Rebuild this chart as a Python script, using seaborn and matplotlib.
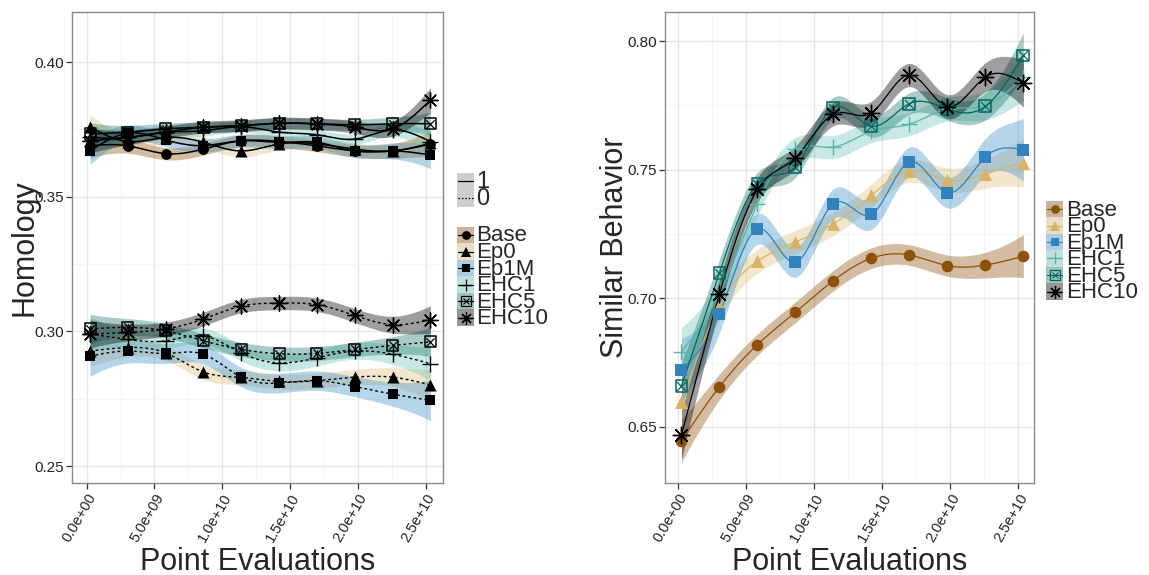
import numpy as np
import pandas as pd
import matplotlib
matplotlib.use("Agg")
import matplotlib.pyplot as plt
from matplotlib.patches import Rectangle
from matplotlib.lines import Line2D
import seaborn as sns

# ---------------- data ----------------
x_evals = [2.5e8, 3.04e9, 5.83e9, 8.62e9, 1.141e10, 1.42e10, 1.699e10, 1.978e10, 2.257e10, 2.536e10]
groups = ["Base", "Ep0", "Ep1M", "EHC1", "EHC5", "EHC10"]

# Homology, condition 1 (solid)
hom1_base = [0.3690, 0.3689, 0.3660, 0.3677, 0.3708, 0.3705, 0.3689, 0.3670, 0.3670, 0.3695]
hom1_ep0 = [0.3758, 0.3705, 0.3720, 0.3702, 0.3670, 0.3696, 0.3696, 0.3677, 0.3670, 0.3699]
hom1_ep1m = [0.3670, 0.3736, 0.3711, 0.3690, 0.3708, 0.3702, 0.3702, 0.3670, 0.3670, 0.3655]
hom1_ehc1 = [0.3720, 0.3720, 0.3740, 0.3745, 0.3760, 0.3740, 0.3730, 0.3714, 0.3748, 0.3705]
hom1_ehc5 = [0.3733, 0.3740, 0.3752, 0.3758, 0.3764, 0.3773, 0.3771, 0.3767, 0.3771, 0.3771]
hom1_ehc10 = [0.3708, 0.3720, 0.3740, 0.3758, 0.3764, 0.3773, 0.3770, 0.3758, 0.3752, 0.3859]

# Homology, condition 0 (dotted)
hom0_ep0 = [0.2927, 0.2940, 0.2920, 0.2849, 0.2829, 0.2814, 0.2817, 0.2830, 0.2830, 0.2801]
hom0_ep1m = [0.2908, 0.2927, 0.2918, 0.2915, 0.2830, 0.2808, 0.2817, 0.2795, 0.2767, 0.2744]
hom0_ehc1 = [0.2990, 0.2970, 0.2965, 0.2983, 0.2920, 0.2883, 0.2902, 0.2927, 0.2915, 0.2880]
hom0_ehc5 = [0.3009, 0.3015, 0.3002, 0.2965, 0.2933, 0.2917, 0.2918, 0.2933, 0.2948, 0.2961]
hom0_ehc10 = [0.2990, 0.2996, 0.3009, 0.3046, 0.3094, 0.3105, 0.3099, 0.3059, 0.3025, 0.3043]

# Similar behavior
sim_base = [0.6446, 0.6656, 0.6820, 0.6946, 0.7069, 0.7156, 0.7168, 0.7127, 0.7129, 0.7164]
sim_ep0 = [0.6597, 0.6972, 0.7144, 0.7219, 0.7290, 0.7400, 0.7495, 0.7460, 0.7484, 0.7527]
sim_ep1m = [0.6722, 0.6939, 0.7270, 0.7140, 0.7368, 0.7326, 0.7530, 0.7411, 0.7549, 0.7577]
sim_ehc1 = [0.6792, 0.7020, 0.7367, 0.7580, 0.7588, 0.7650, 0.7677, 0.7736, 0.7749, 0.7860]
sim_ehc5 = [0.6660, 0.7100, 0.7446, 0.7512, 0.7740, 0.7669, 0.7757, 0.7736, 0.7746, 0.7944]
sim_ehc10 = [0.6469, 0.7017, 0.7423, 0.7547, 0.7716, 0.7721, 0.7868, 0.7745, 0.7860, 0.7837]

xtick_vals = [0.0, 5e9, 1e10, 1.5e10, 2e10, 2.5e10]
xtick_labels = ["0.0e+00", "5.0e+09", "1.0e+10", "1.5e+10", "2.0e+10", "2.5e+10"]

hom1 = dict(zip(groups, [hom1_base, hom1_ep0, hom1_ep1m, hom1_ehc1, hom1_ehc5, hom1_ehc10]))
hom0 = dict(zip(groups[1:], [hom0_ep0, hom0_ep1m, hom0_ehc1, hom0_ehc5, hom0_ehc10]))
sim = dict(zip(groups, [sim_base, sim_ep0, sim_ep1m, sim_ehc1, sim_ehc5, sim_ehc10]))

# ---------------- styles ----------------
line_col = {"Base": "#8c510a", "Ep0": "#d8b365", "Ep1M": "#3182bd",
            "EHC1": "#5ab4ac", "EHC5": "#01665e", "EHC10": "#000000"}
band_col = {"Base": "#8c510a", "Ep0": "#dfc27d", "Ep1M": "#3d92cc",
            "EHC1": "#6cc4b8", "EHC5": "#1f7a70", "EHC10": "#000000"}
marker_of = {"Base": "o", "Ep0": "^", "Ep1M": "s", "EHC1": "+", "EHC5": "boxx", "EHC10": (8, 2, 0)}
sim_hw = {"Base": 0.0040, "Ep0": 0.0045, "Ep1M": 0.0058, "EHC1": 0.0045, "EHC5": 0.0042, "EHC10": 0.0045}
hom_hw1 = {"Base": 0.0022, "Ep0": 0.0022, "Ep1M": 0.0024, "EHC1": 0.0020, "EHC5": 0.0020, "EHC10": 0.0022}
hom_hw0 = {"Ep0": 0.0028, "Ep1M": 0.0036, "EHC1": 0.0030, "EHC5": 0.0026, "EHC10": 0.0025}

FONT = "Liberation Sans"
sns.set_theme(style="whitegrid")
plt.rcParams["font.family"] = [FONT, "DejaVu Sans"]

W, H = 1149, 575
fig = plt.figure(figsize=(W / 100, H / 100), dpi=100)


def fx(px):
    return px / W


def fy(py):
    return 1 - py / H


def nat_spline(x, y, xs):
    x = np.asarray(x, float); y = np.asarray(y, float)
    n = len(x)
    h = np.diff(x)
    A = np.zeros((n, n)); b = np.zeros(n)
    A[0, 0] = 1; A[-1, -1] = 1
    for i in range(1, n - 1):
        A[i, i - 1] = h[i - 1]
        A[i, i] = 2 * (h[i - 1] + h[i])
        A[i, i + 1] = h[i]
        b[i] = 6 * ((y[i + 1] - y[i]) / h[i] - (y[i] - y[i - 1]) / h[i - 1])
    M = np.linalg.solve(A, b)
    idx = np.clip(np.searchsorted(x, xs) - 1, 0, n - 2)
    x0 = x[idx]; x1 = x[idx + 1]; hh = x1 - x0
    t0 = x1 - xs; t1 = xs - x0
    return (M[idx] * t0 ** 3 / (6 * hh) + M[idx + 1] * t1 ** 3 / (6 * hh)
            + (y[idx] / hh - M[idx] * hh / 6) * t0 + (y[idx + 1] / hh - M[idx + 1] * hh / 6) * t1)


def draw_series(ax, g, yv, hw, lcolor, mcolor, ls, lw, ms, band_alpha=0.38):
    xs = np.linspace(x_evals[0], x_evals[-1], 300)
    ys = nat_spline(x_evals, yv, xs)
    t = (xs - (x_evals[0] + x_evals[-1]) / 2) / ((x_evals[-1] - x_evals[0]) / 2)
    w = hw * (1 + 1.1 * t ** 6)
    ax.fill_between(xs, ys - w, ys + w, color=band_col[g], alpha=band_alpha, lw=0, zorder=2)
    curve = pd.DataFrame({"x": xs, "y": ys})
    sns.lineplot(data=curve, x="x", y="y", ax=ax, color=lcolor, lw=lw, linestyle=ls,
                 estimator=None, sort=False, zorder=3)
    pts = pd.DataFrame({"x": x_evals, "y": yv})
    m = marker_of[g]
    if m == "boxx":
        sns.scatterplot(data=pts, x="x", y="y", ax=ax, marker="s", s=ms * 1.05,
                        facecolors="none", edgecolor=mcolor, linewidth=1.1, zorder=4)
        sns.scatterplot(data=pts, x="x", y="y", ax=ax, marker="x", s=ms * 0.6,
                        color=mcolor, linewidth=0.9, zorder=4)
    elif m in ("+", (8, 2, 0)):
        sns.scatterplot(data=pts, x="x", y="y", ax=ax, marker=m, s=ms * 2.0,
                        color=mcolor, linewidth=1.0, zorder=4)
    else:
        s = ms * (1.25 if m == "^" else 1.0)
        sns.scatterplot(data=pts, x="x", y="y", ax=ax, marker=m, s=s,
                        color=mcolor, edgecolor=mcolor, linewidth=0, zorder=4)


def style_axes(ax, yticks, ylab, yminor, xlim, ylim, ylab_x):
    ax.set_facecolor("white")
    for sp in ax.spines.values():
        sp.set_color("#8a8a8a"); sp.set_linewidth(1.0)
    ax.set_xticks(xtick_vals)
    ax.set_xticklabels(xtick_labels, rotation=60, ha="right", va="top",
                       rotation_mode="anchor", fontsize=10.5, color="#222222")
    ax.set_xticks([2.5e9, 7.5e9, 1.25e10, 1.75e10, 2.25e10], minor=True)
    ax.set_yticks(yticks)
    ax.set_yticklabels(["%.2f" % v for v in yticks], fontsize=11, color="#222222")
    ax.set_yticks(yminor, minor=True)
    ax.set_xlim(*xlim)
    ax.set_ylim(*ylim)
    ax.grid(which="major", color="#e6e6e6", lw=1.0)
    ax.grid(which="minor", color="#f5f5f5", lw=0.8)
    ax.set_axisbelow(True)
    ax.tick_params(which="major", length=4, width=0.9, color="#333333", pad=2,
                   bottom=True, left=True)
    ax.tick_params(which="minor", length=0)
    ax.set_xlabel("Point Evaluations", fontsize=22, va="baseline")
    ax.xaxis.set_label_coords(0.5, (483 - 570) / 471.0)
    ax.set_ylabel(ylab, fontsize=22, va="center")
    ax.yaxis.set_label_coords(ylab_x, 0.5)


# ---------------- left panel ----------------
axL = fig.add_axes([fx(72), fy(483), fx(442.5) - fx(72), fy(12) - fy(483)])
for g in groups:
    draw_series(axL, g, hom1[g], hom_hw1[g], "black", "black", "-", 1.1, 60)
for g in groups[1:]:
    draw_series(axL, g, hom0[g], hom_hw0[g], "black", "black", (0, (2, 2)), 1.0, 60)
style_axes(axL, [0.25, 0.30, 0.35, 0.40], "Homology", [0.275, 0.325, 0.375],
           (-1.08e9, 2.625e10), (0.2437, 0.4186), (24 - 72) / 370.5)

# ---------------- right panel ----------------
axR = fig.add_axes([fx(665), fy(483), fx(1034) - fx(665), fy(12) - fy(483)])
for g in groups:
    draw_series(axR, g, sim[g], sim_hw[g], line_col[g], line_col[g], "-", 0.9, 70)
style_axes(axR, [0.65, 0.70, 0.75, 0.80], "Similar Behavior", [0.675, 0.725, 0.775],
           (-0.96e9, 2.614e10), (0.6282, 0.8113), (615 - 665) / 369.0)


# ---------------- legends ----------------
def key_box(px, pcy, color, alpha):
    x0 = px
    y1 = pcy + 8.5
    fig.add_artist(Rectangle((fx(x0), fy(y1)), fx(17), fy(0) - fy(17), transform=fig.transFigure,
                             facecolor="#f2f2f2", edgecolor="none"))
    fig.add_artist(Rectangle((fx(x0), fy(y1)), fx(17), fy(0) - fy(17), transform=fig.transFigure,
                             facecolor=color, alpha=alpha, edgecolor="none"))


def key_marker(pcx, pcy, g, color, ms):
    m = marker_of[g]
    if m == "boxx":
        fig.add_artist(Line2D([fx(pcx)], [fy(pcy)], marker="s", markersize=ms * 0.95, mfc="none",
                              mec=color, mew=0.9, transform=fig.transFigure, ls="none"))
        fig.add_artist(Line2D([fx(pcx)], [fy(pcy)], marker="x", markersize=ms * 0.7,
                              mec=color, mew=0.8, transform=fig.transFigure, ls="none"))
    elif m in ("+", (8, 2, 0)):
        fig.add_artist(Line2D([fx(pcx)], [fy(pcy)], marker=m, markersize=ms * 1.3,
                              mec=color, mew=0.9, transform=fig.transFigure, ls="none"))
    else:
        fig.add_artist(Line2D([fx(pcx)], [fy(pcy)], marker=m, markersize=ms * (1.05 if m == "^" else 0.9),
                              mfc=color, mec=color, mew=0, transform=fig.transFigure, ls="none"))


# left legend: linetype
for lab, cy, ls in [("1", 181, "-"), ("0", 198, (0, (1.2, 1.5)))]:
    key_box(457, cy, "#999999", 0.4)
    fig.add_artist(Line2D([fx(458), fx(473)], [fy(cy), fy(cy)], color="black", lw=0.9, ls=ls,
                          transform=fig.transFigure))
    fig.text(fx(476), fy(cy + 1), lab, fontsize=17, ha="left", va="center")

# left legend: groups
left_rows = [235, 251.5, 268, 284.5, 301, 317.5]
for g, cy in zip(groups, left_rows):
    key_box(457, cy, band_col[g], 0.38)
    fig.add_artist(Line2D([fx(458), fx(473)], [fy(cy), fy(cy)], color="black", lw=0.9,
                          transform=fig.transFigure))
    key_marker(465.5, cy, g, "black", 7)
    fig.text(fx(476), fy(cy + 1), g, fontsize=16, ha="left", va="center")

# right legend
right_rows = [209, 225.5, 242, 258.5, 275, 291.5]
for g, cy in zip(groups, right_rows):
    key_box(1046, cy, band_col[g], 0.38)
    fig.add_artist(Line2D([fx(1047), fx(1062)], [fy(cy), fy(cy)], color=line_col[g], lw=0.9,
                          transform=fig.transFigure))
    key_marker(1054.5, cy, g, line_col[g], 7)
    fig.text(fx(1066), fy(cy + 1), g, fontsize=16, ha="left", va="center")

fig.savefig("out.png", dpi=100, facecolor="white")
